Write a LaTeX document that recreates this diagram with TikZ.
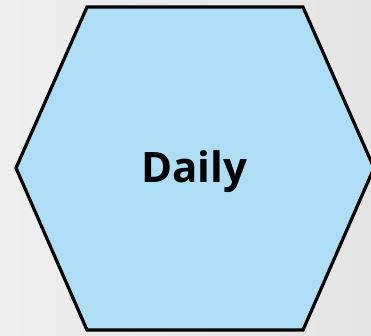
\documentclass[tikz,border=0pt]{standalone}
\usepackage{fontspec}
\setmainfont{Open Sans}
\definecolor{hexblue}{HTML}{ADDEF6}
\definecolor{bgleft}{HTML}{EEEEEE}
\definecolor{bgright}{HTML}{E4E4E4}
\begin{document}
\begin{tikzpicture}[x=1pt,y=1pt,
  hexside/.style={draw=black,line width=3.2pt,line join=miter,fill=hexblue}]
  % background
  \shade[left color=bgleft,right color=bgright] (0,0) rectangle (371,336);
  \useasboundingbox (0,0) rectangle (371,336);
  \begin{scope}
    \clip (0,0) rectangle (371,336);
    \draw[hexside] (87,329) -- (303,329) -- (374,168) -- (303,6)
      -- (87,6) -- (16,168) -- cycle;
  \end{scope}
  \node[font=\bfseries\fontsize{42}{50}\selectfont,anchor=base] (daily) at (194,153) {Daily};
\end{tikzpicture}
\end{document}
